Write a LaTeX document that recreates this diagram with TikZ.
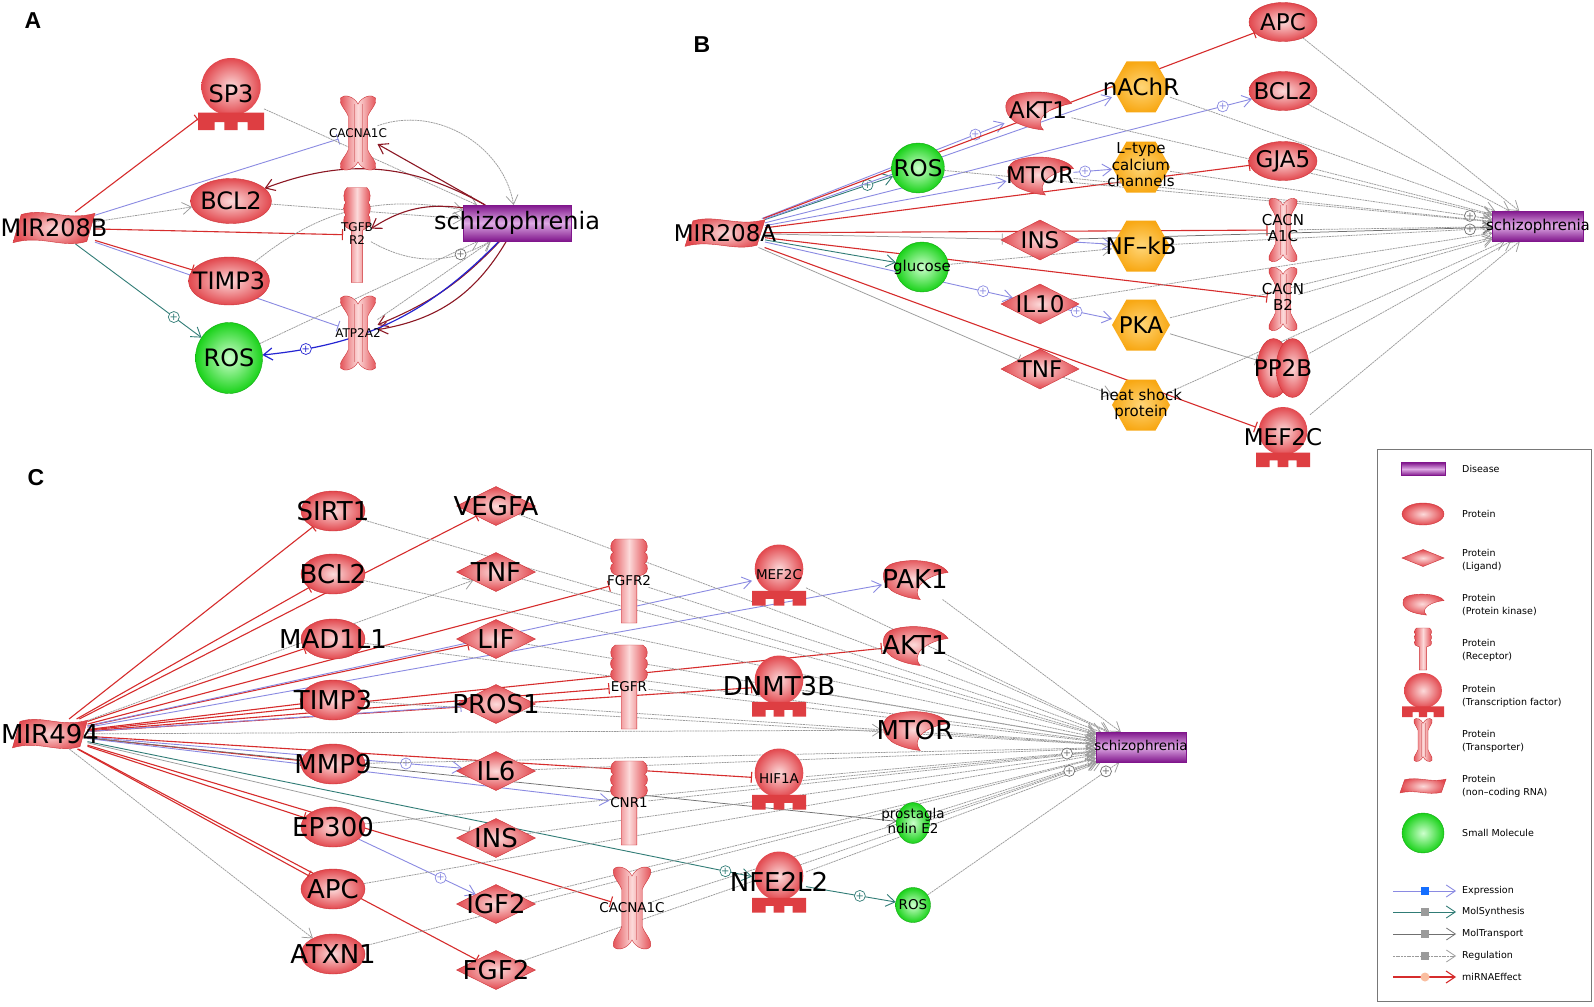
\documentclass[tikz,border=0pt]{standalone}
\usepackage{fontspec}
\setmainfont{DejaVu Sans}
\newfontfamily\panelfont{Liberation Sans}
\usetikzlibrary{shapes.geometric,arrows.meta}
\pgfdeclarelayer{paper}
\pgfdeclarelayer{edgelayer}
\pgfdeclarelayer{shapelayer}
\pgfsetlayers{paper,edgelayer,shapelayer,main}

\definecolor{protin}{RGB}{252,218,218}
\definecolor{protout}{RGB}{226,72,78}
\definecolor{protedge}{RGB}{205,50,55}
\definecolor{tfbase}{RGB}{222,62,66}
\definecolor{molin}{RGB}{205,255,205}
\definecolor{molout}{RGB}{25,210,25}
\definecolor{hexin}{RGB}{255,214,120}
\definecolor{hexout}{RGB}{248,168,20}
\definecolor{disdark}{RGB}{128,22,140}
\definecolor{dislight}{RGB}{222,170,228}
\definecolor{mirline}{RGB}{214,44,44}
\definecolor{exprline}{RGB}{138,138,226}
\definecolor{synline}{RGB}{48,124,118}
\definecolor{regline}{RGB}{155,155,155}
\definecolor{transline}{RGB}{112,112,112}
\definecolor{backline}{RGB}{140,24,36}
\definecolor{deepblue}{RGB}{36,36,210}
\definecolor{boxgray}{RGB}{120,120,120}
\definecolor{lgblue}{RGB}{20,110,255}
\definecolor{lgpeach}{RGB}{250,190,160}

\newcommand\stack[1]{\begin{tabular}{@{}c@{}}#1\end{tabular}}
\newcommand\kinshape{\shade[inner color=protin, outer color=protout, draw=protedge]
  (1,0.66) .. controls (0.88,0.98) and (0.35,1.02) .. (0.12,0.85)
  .. controls (-0.05,0.7) and (0,0.3) .. (0.22,0.15)
  .. controls (0.32,0.08) and (0.42,0.03) .. (0.58,0)
  .. controls (0.42,0.3) and (0.7,0.6) .. cycle;}
\newcommand\recshape{\shade[left color=protout, right color=protout, middle color=protin, draw=protedge]
  (0.3,0) -- (0.7,0) -- (0.7,0.55) -- (0.88,0.58)
  .. controls (1,0.6) and (1,0.7) .. (0.9,0.71)
  .. controls (1,0.73) and (1,0.83) .. (0.9,0.84)
  .. controls (1,0.86) and (1,0.97) .. (0.85,1) -- (0.15,1)
  .. controls (0,0.97) and (0,0.86) .. (0.1,0.84)
  .. controls (0,0.83) and (0,0.73) .. (0.1,0.71)
  .. controls (0,0.7) and (0,0.6) .. (0.12,0.58) -- (0.3,0.55) -- cycle;}
\newcommand\trpshape{\shade[left color=protout, right color=protout, middle color=protin, draw=protedge]
  (0.5,0.88) .. controls (0.6,0.98) and (0.85,1.02) .. (0.95,0.96)
  .. controls (1,0.88) and (0.8,0.8) .. (0.75,0.72) -- (0.75,0.28)
  .. controls (0.8,0.2) and (1,0.12) .. (0.95,0.04)
  .. controls (0.85,-0.02) and (0.6,0.02) .. (0.5,0.12)
  .. controls (0.4,0.02) and (0.15,-0.02) .. (0.05,0.04)
  .. controls (0,0.12) and (0.2,0.2) .. (0.25,0.28) -- (0.25,0.72)
  .. controls (0.2,0.8) and (0,0.88) .. (0.05,0.96)
  .. controls (0.15,1.02) and (0.4,0.98) .. cycle;
  \draw[protedge!60] (0.4,0.12) -- (0.4,0.88) (0.6,0.12) -- (0.6,0.88);}
\newcommand\tfshape{\shade[inner color=protin, outer color=protout] (0.5,0.6) ellipse [x radius=0.45, y radius=0.4];
  \fill[tfbase] (0,0.24) -- (1,0.24) -- (1,0) -- (0.75,0) -- (0.75,0.11) -- (0.6,0.11) -- (0.6,0)
  -- (0.4,0) -- (0.4,0.11) -- (0.25,0.11) -- (0.25,0) -- (0,0) -- cycle;}
\newcommand\rnashape{\shade[inner color=protin, outer color=protout, draw=protedge]
  (0,0.04) .. controls (0.35,0.3) and (0.6,-0.15) .. (0.9,0.08) -- (1,0.96)
  .. controls (0.65,0.7) and (0.4,1.15) .. (0.1,0.92) -- cycle;}
\newcommand\hexshape{\shade[inner color=hexin, outer color=hexout]
  (0,0.5) -- (0.25,1) -- (0.75,1) -- (1,0.5) -- (0.75,0) -- (0.25,0) -- cycle;}
\newcommand\cpxshape{\shade[inner color=protin, outer color=protout, draw=protedge] (0.32,0.5) ellipse [x radius=0.31, y radius=0.49];
  \shade[inner color=protin, outer color=protout, draw=protedge] (0.68,0.5) ellipse [x radius=0.31, y radius=0.49];}

\tikzset{
  unitbox/.style 2 args={x=#1pt, y=#2pt, shift={(-.5,-.5)}},
  pics/kinp/.style 2 args={code={\begin{pgfonlayer}{shapelayer}\begin{scope}[unitbox={#1}{#2}]\kinshape\end{scope}\end{pgfonlayer}}},
  pics/recp/.style 2 args={code={\begin{pgfonlayer}{shapelayer}\begin{scope}[unitbox={#1}{#2}]\recshape\end{scope}\end{pgfonlayer}}},
  pics/trpp/.style 2 args={code={\begin{pgfonlayer}{shapelayer}\begin{scope}[unitbox={#1}{#2}]\trpshape\end{scope}\end{pgfonlayer}}},
  pics/tfp/.style 2 args={code={\begin{pgfonlayer}{shapelayer}\begin{scope}[unitbox={#1}{#2}]\tfshape\end{scope}\end{pgfonlayer}}},
  pics/rnap/.style 2 args={code={\begin{pgfonlayer}{shapelayer}\begin{scope}[unitbox={#1}{#2}]\rnashape\end{scope}\end{pgfonlayer}}},
  pics/hexp/.style 2 args={code={\begin{pgfonlayer}{shapelayer}\begin{scope}[unitbox={#1}{#2}]\hexshape\end{scope}\end{pgfonlayer}}},
  pics/cpxp/.style 2 args={code={\begin{pgfonlayer}{shapelayer}\begin{scope}[unitbox={#1}{#2}]\cpxshape\end{scope}\end{pgfonlayer}}},
  wh/.style 2 args={minimum width=#1pt, minimum height=#2pt},
  gene/.style={inner sep=0pt, outer sep=0pt, execute at begin node={\hbox to 0pt\bgroup\hss}, execute at end node={\hss\egroup}},
  prot/.style 2 args={gene, wh={#1}{#2}, ellipse, draw=protedge, inner color=protin, outer color=protout},
  lig/.style 2 args={gene, wh={#1}{#2}, diamond, draw=protedge, inner color=protin, outer color=protout},
  mol/.style 2 args={gene, wh={#1}{#2}, ellipse, draw=molout!80!black, inner color=molin, outer color=molout},
  dis/.style 2 args={gene, wh={#1}{#2}, rectangle, draw=disdark, top color=disdark, bottom color=disdark, middle color=dislight},
  kin/.style 2 args={gene, wh={#1}{#2}, append after command={pic at (\tikzlastnode) {kinp={#1}{#2}}}},
  rec/.style 2 args={gene, wh={#1}{#2}, append after command={pic at (\tikzlastnode) {recp={#1}{#2}}}},
  trp/.style 2 args={gene, wh={#1}{#2}, append after command={pic at (\tikzlastnode) {trpp={#1}{#2}}}},
  tf/.style 2 args={gene, wh={#1}{#2}, append after command={pic at (\tikzlastnode) {tfp={#1}{#2}}}},
  rna/.style 2 args={gene, wh={#1}{#2}, append after command={pic at (\tikzlastnode) {rnap={#1}{#2}}}},
  hex/.style 2 args={gene, wh={#1}{#2}, append after command={pic at (\tikzlastnode) {hexp={#1}{#2}}}},
  cpx/.style 2 args={gene, wh={#1}{#2}, append after command={pic at (\tikzlastnode) {cpxp={#1}{#2}}}},
  tA/.style={font=\fontsize{24}{26}\selectfont},
  sA/.style={font=\fontsize{12}{13}\selectfont},
  tB/.style={font=\fontsize{23}{25}\selectfont},
  sB/.style={font=\fontsize{15}{16.5}\selectfont},
  tC/.style={font=\fontsize{26}{28}\selectfont},
  sC/.style={font=\fontsize{13.5}{14}\selectfont},
  panel/.style={font=\panelfont\bfseries\fontsize{23}{25}\selectfont},
  leg/.style={font=\fontsize{9.5}{13}\selectfont, anchor=west, align=left, inner sep=0pt},
  tip/.style={-{Straight Barb[length=9pt,width=12pt]}},
  bartip/.style={-{Bar[width=11pt]}},
  mir/.style={draw=mirline, line width=1.1pt, bartip},
  expr/.style={draw=exprline, line width=.9pt, tip},
  exprbar/.style={draw=exprline, line width=.9pt, bartip},
  syn/.style={draw=synline, line width=.9pt, tip},
  reg/.style={draw=regline, line width=.75pt, dash pattern=on 2pt off .7pt, tip},
  regbar/.style={draw=regline, line width=.75pt, bartip},
  trans/.style={draw=transline, line width=.75pt, tip},
  back/.style={draw=backline, line width=1.1pt, tip},
  deep/.style={draw=deepblue, line width=1.2pt, tip},
  oplus/.style={circle, solid, draw=#1, text=#1, fill=white, line width=.7pt, minimum size=11pt, inner sep=0pt,
    font=\fontsize{10}{10}\selectfont}
}

\begin{document}
\begin{tikzpicture}[x=1pt,y=-1pt]
\begin{pgfonlayer}{paper}
\fill[white] (0,0) rectangle (1594,1006);
\end{pgfonlayer}
\useasboundingbox (0,0) rectangle (1594,1006);

\node[panel] (labA) at (33,21) {A};
\node[panel] (labB) at (702,45) {B};
\node[panel] (labC) at (36,478) {C};

\node[rna={82}{32}, tA] (mirA) at (54,228) {MIR208B};
\node[tf={66}{72}, tA] (sp3) at (231,94) {SP3};
\node[trp={39}{76}, sA] (cacA) at (358,133) {CACNA1C};
\node[prot={81}{45}, tA] (bclA) at (231,201) {BCL2};
\node[rec={28}{95}, sA] (tgfb) at (357,235) {\stack{TGFB\\R2}};
\node[dis={108}{36}, tA] (szA) at (517,223) {schizophrenia};
\node[prot={81}{48}, tA] (timpA) at (229,281) {TIMP3};
\node[mol={67}{71}, tA] (rosA) at (229,358) {ROS};
\node[trp={39}{76}, sA] (atp) at (358,333) {ATP2A2};

\node[rna={80}{29}, tB] (mirB) at (725,233) {MIR208A};
\node[mol={53}{50}, tB] (rosB) at (918,168) {ROS};
\node[kin={67}{40}, tB] (aktB) at (1038,110) {AKT1};
\node[kin={67}{40}, tB] (mtorB) at (1040,175) {MTOR};
\node[lig={78}{40}, tB] (insB) at (1040,240) {INS};
\node[mol={53}{50}, sB] (gluB) at (922,267) {glucose};
\node[lig={78}{40}, tB] (il10) at (1040,304) {IL10};
\node[lig={78}{40}, tB] (tnfB) at (1040,369) {TNF};
\node[hex={58}{51}, tB] (nachr) at (1141,87) {nAChR};
\node[hex={58}{51}, sB] (ltype) at (1141,167) {\stack{L--type\\calcium\\channels}};
\node[hex={58}{51}, tB] (nfkb) at (1141,246) {NF--kB};
\node[hex={58}{51}, tB] (pka) at (1141,325) {PKA};
\node[hex={58}{51}, sB] (hsp) at (1141,405) {\stack{heat shock\\protein}};
\node[prot={68}{39}, tB] (apcB) at (1283,22) {APC};
\node[prot={68}{39}, tB] (bclB) at (1283,91) {BCL2};
\node[prot={68}{39}, tB] (gja5) at (1283,161) {GJA5};
\node[trp={31}{65}, sB] (cacaB) at (1283,230) {\stack{CACN\\A1C}};
\node[trp={31}{65}, sB] (cacbB) at (1283,299) {\stack{CACN\\B2}};
\node[cpx={53}{60}, tB] (pp2b) at (1283,368) {PP2B};
\node[tf={54}{60}, tB] (mefB) at (1283,437) {MEF2C};
\node[dis={91}{30}, sB] (szB) at (1538,226) {schizophrenia};

\node[rna={75}{30}, tC] (mirC) at (50,734) {MIR494};
\node[prot={64}{40}, tC] (sirt1) at (333,511) {SIRT1};
\node[prot={64}{40}, tC] (bclC) at (333,574) {BCL2};
\node[prot={64}{40}, tC] (mad) at (333,639) {MAD1L1};
\node[prot={64}{40}, tC] (timpC) at (333,700) {TIMP3};
\node[prot={64}{40}, tC] (mmp9) at (333,764) {MMP9};
\node[prot={64}{40}, tC] (ep300) at (333,827) {EP300};
\node[prot={64}{40}, tC] (apcC) at (333,889) {APC};
\node[prot={64}{40}, tC] (atxn1) at (333,954) {ATXN1};
\node[lig={79}{39}, tC] (vegfa) at (496,506) {VEGFA};
\node[lig={79}{39}, tC] (tnfC) at (496,572) {TNF};
\node[lig={79}{39}, tC] (lif) at (496,639) {LIF};
\node[lig={79}{39}, tC] (pros1) at (496,704) {PROS1};
\node[lig={79}{39}, tC] (il6) at (496,771) {IL6};
\node[lig={79}{39}, tC] (insC) at (496,838) {INS};
\node[lig={79}{39}, tC] (igf2) at (496,904) {IGF2};
\node[lig={79}{39}, tC] (fgf2) at (496,970) {FGF2};
\node[rec={39}{84}, sC] (fgfr2) at (629,581) {FGFR2};
\node[rec={39}{84}, sC] (egfr) at (629,687) {EGFR};
\node[rec={39}{84}, sC] (cnr1) at (629,803) {CNR1};
\node[trp={41}{84}, sC] (cacC) at (632,908) {CACNA1C};
\node[tf={54}{61}, sC] (mefC) at (779,575) {MEF2C};
\node[tf={54}{61}, tC] (dnmt) at (779,686) {DNMT3B};
\node[tf={54}{61}, sC] (hif1a) at (779,779) {HIF1A};
\node[tf={54}{61}, tC] (nfe) at (779,882) {NFE2L2};
\node[kin={66}{41}, tC] (pak1) at (915,579) {PAK1};
\node[kin={66}{41}, tC] (aktC) at (915,645) {AKT1};
\node[kin={66}{41}, tC] (mtorC) at (915,730) {MTOR};
\node[mol={33}{33}, sC] (pge2) at (913,823) {\stack{prostagla\\ndin E2}};
\node[mol={35}{35}, sC] (rosC) at (913,905) {ROS};
\node[dis={90}{30}, sC] (szC) at (1141,747) {schizophrenia};

\begin{pgfonlayer}{edgelayer}
\path (mirA) edge[mir] (sp3)
      (mirA) edge[exprbar] (cacA)
      (mirA) edge[reg] (bclA)
      (mirA) edge[mir] (tgfb)
      (mirA) edge[mir] (timpA)
      (mirA) edge[exprbar] (atp)
      (mirA) edge[syn] node[pos=.78, oplus=synline] {+} (rosA)
      (sp3) edge[reg] (szA)
      (bclA) edge[reg] (szA)
      (cacA) edge[reg, bend left=50] (szA)
      (timpA) edge[reg, bend left=25] (szA)
      (tgfb) edge[reg, bend right=30] node[pos=.75, oplus=transline] {+} (szA)
      (rosA) edge[reg] (szA)
      (atp) edge[reg] (szA)
      (szA) edge[back, bend right=25] (bclA)
      (szA) edge[back] (cacA)
      (szA) edge[back, bend right=20] (tgfb)
      (szA) edge[back, bend left=12] (atp)
      (szA) edge[back, bend left=25] (atp)
      (szA) edge[deep, bend left=20] node[pos=.85, oplus=deepblue] {+} (rosA);

\path (mirB) edge[syn] node[pos=.8, oplus=synline] {+} (rosB)
      (mirB) edge[expr] node[pos=.88, oplus=exprline] {+} (aktB)
      (mirB) edge[mir] (apcB)
      (mirB) edge[expr] (nachr)
      (mirB) edge[expr] node[pos=.94, oplus=exprline] {+} (bclB)
      (mirB) edge[expr] (mtorB)
      (mirB) edge[mir] (gja5)
      (mirB) edge[mir] (cacaB)
      (mirB) edge[regbar] (insB)
      (mirB) edge[mir] (cacbB)
      (mirB) edge[syn] (gluB)
      (mirB) edge[expr] node[pos=.88, oplus=exprline] {+} (il10)
      (mirB) edge[regbar] (tnfB)
      (mirB) edge[mir] (mefB)
      (mtorB) edge[expr] node[pos=.3, oplus=exprline] {+} (ltype)
      (insB) edge[expr] (nfkb)
      (il10) edge[expr] node[pos=.2, oplus=exprline] {+} (pka)
      (tnfB) edge[reg] (hsp)
      (pka) edge[regbar] (pp2b)
      (gluB) edge[reg] (nfkb)
      (apcB) edge[reg] (szB)
      (bclB) edge[reg] (szB)
      (gja5) edge[reg] (szB)
      (cacaB) edge[reg] (szB)
      (cacbB) edge[reg] (szB)
      (pp2b) edge[reg] (szB)
      (mefB) edge[reg] (szB)
      (nachr) edge[reg] (szB)
      (ltype) edge[reg] node[pos=.93, oplus=transline] {+} (szB)
      (nfkb) edge[reg] node[pos=.93, oplus=transline] {+} (szB)
      (pka) edge[reg] (szB)
      (hsp) edge[reg] (szB)
      (aktB) edge[reg] (szB)
      (mtorB) edge[reg] (szB)
      (rosB) edge[reg] (szB)
      (insB) edge[trans] (szB)
      (il10) edge[reg] (szB);

\path (mirC) edge[mir] (sirt1)
      (mirC) edge[mir] (bclC)
      (mirC) edge[mir] (vegfa)
      (mirC) edge[mir] (mad)
      (mirC) edge[mir] (fgfr2)
      (mirC) edge[mir] (lif)
      (mirC) edge[mir] (timpC)
      (mirC) edge[mir] (egfr)
      (mirC) edge[mir] (aktC)
      (mirC) edge[mir] (dnmt)
      (mirC) edge[mir] (mmp9)
      (mirC) edge[mir] (hif1a)
      (mirC) edge[mir] (ep300)
      (mirC) edge[mir] (cacC)
      (mirC) edge[mir] (apcC)
      (mirC) edge[mir] (fgf2)
      (mirC) edge[expr] (mefC)
      (mirC) edge[expr] (pak1)
      (mirC) edge[exprbar] (pros1)
      (mirC) edge[expr] node[pos=.85, oplus=exprline] {+} (il6)
      (mirC) edge[expr] (cnr1)
      (ep300) edge[expr] node[pos=.7, oplus=exprline] {+} (igf2)
      (mirC) edge[reg] (tnfC)
      (mirC) edge[regbar] (insC)
      (mirC) edge[reg] (mtorC)
      (mirC) edge[reg] (atxn1)
      (mirC) edge[trans] (pge2)
      (mirC) edge[syn] node[pos=.96, oplus=synline] {+} (nfe)
      (nfe) edge[syn] node[pos=.6, oplus=synline] {+} (rosC)
      (sirt1) edge[reg] (szC)
      (bclC) edge[reg] (szC)
      (mad) edge[reg] (szC)
      (timpC) edge[reg] (szC)
      (mmp9) edge[reg] (szC)
      (ep300) edge[reg] (szC)
      (apcC) edge[reg] (szC)
      (atxn1) edge[reg] (szC)
      (vegfa) edge[reg] (szC)
      (tnfC) edge[reg] (szC)
      (lif) edge[reg] (szC)
      (pros1) edge[reg] (szC)
      (il6) edge[reg] (szC)
      (insC) edge[reg] (szC)
      (igf2) edge[reg] (szC)
      (fgf2) edge[reg] (szC)
      (fgfr2) edge[reg] (szC)
      (egfr) edge[reg] (szC)
      (cnr1) edge[reg] (szC)
      (cacC) edge[reg] (szC)
      (mefC) edge[reg] (szC)
      (dnmt) edge[reg] (szC)
      (hif1a) edge[reg] node[pos=.9, oplus=transline] {+} (szC)
      (nfe) edge[reg] (szC)
      (pak1) edge[reg] (szC)
      (aktC) edge[reg] (szC)
      (mtorC) edge[reg] (szC)
      (pge2) edge[reg] node[pos=.84, oplus=transline] {+} (szC)
      (rosC) edge[reg] node[pos=.93, oplus=transline] {+} (szC);
\end{pgfonlayer}

\draw[boxgray, line width=.8pt] (1377,449) rectangle (1591,1001);
\node[dis={44}{13}] (lg1) at (1423,469) {};
\node[leg] (lt1) at (1462,469) {Disease};
\node[prot={42}{22}] (lg2) at (1423,514) {};
\node[leg] (lt2) at (1462,514) {Protein};
\node[lig={42}{17}] (lg3) at (1423,558) {};
\node[leg] (lt3) at (1462,560) {Protein\\(Ligand)};
\node[kin={42}{22}] (lg4) at (1423,604) {};
\node[leg] (lt4) at (1462,605) {Protein\\(Protein kinase)};
\node[rec={18}{42}] (lg5) at (1423,649) {};
\node[leg] (lt5) at (1462,650) {Protein\\(Receptor)};
\node[tf={42}{44}] (lg6) at (1423,695) {};
\node[leg] (lt6) at (1462,696) {Protein\\(Transcription factor)};
\node[trp={20}{44}] (lg7) at (1423,740) {};
\node[leg] (lt7) at (1462,741) {Protein\\(Transporter)};
\node[rna={46}{15}] (lg8) at (1423,786) {};
\node[leg] (lt8) at (1462,786) {Protein\\(non--coding RNA)};
\node[mol={42}{40}] (lg9) at (1423,833) {};
\node[leg] (lt9) at (1462,833) {Small Molecule};

\draw[expr] (1393,891) -- (1456,891);
\node[fill=lgblue, minimum size=8pt, inner sep=0pt] (mk1) at (1425,891) {};
\node[leg] (lt10) at (1462,891) {Expression};
\draw[syn] (1393,912) -- (1456,912);
\node[fill=regline, minimum size=8pt, inner sep=0pt] (mk2) at (1425,912) {};
\node[leg] (lt11) at (1462,912) {MolSynthesis};
\draw[trans] (1393,934) -- (1456,934);
\node[fill=regline, minimum size=8pt, inner sep=0pt] (mk3) at (1425,934) {};
\node[leg] (lt12) at (1462,934) {MolTransport};
\draw[reg] (1393,956) -- (1456,956);
\node[fill=regline, minimum size=8pt, inner sep=0pt] (mk4) at (1425,956) {};
\node[leg] (lt13) at (1462,956) {Regulation};
\draw[mir, tip] (1393,977) -- (1456,977);
\node[circle, fill=lgpeach, minimum size=9pt, inner sep=0pt] (mk5) at (1425,977) {};
\node[leg] (lt14) at (1462,977) {miRNAEffect};
\end{tikzpicture}
\end{document}
